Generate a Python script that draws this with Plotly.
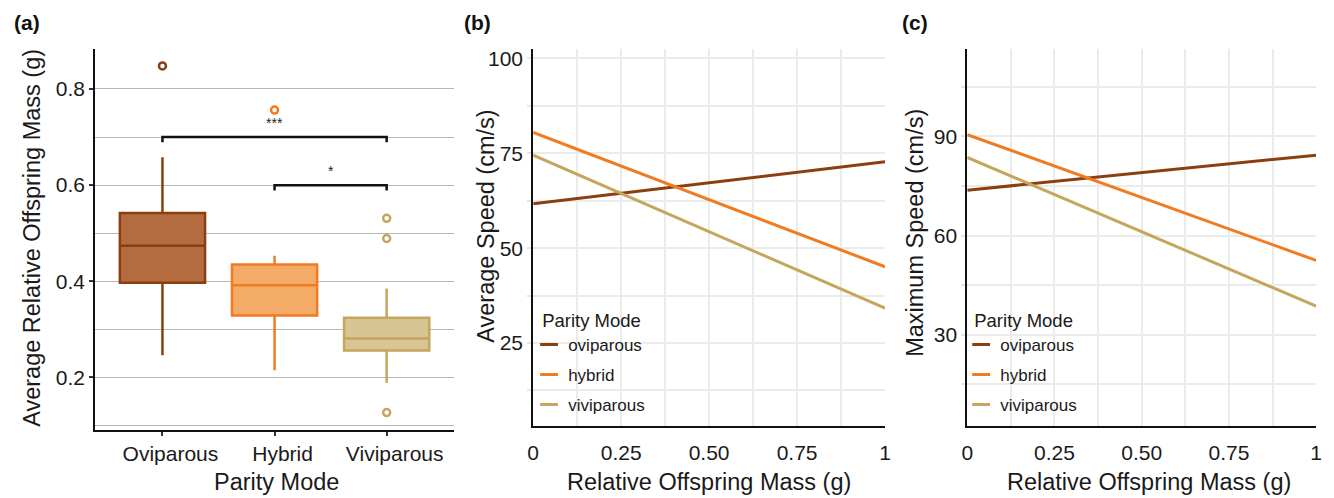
import plotly.graph_objects as go

W, H = 1334, 498

# ---------------- data ----------------
categories = ["Oviparous", "Hybrid", "Viviparous"]
box_q1 = [0.397, 0.329, 0.256]
box_median = [0.474, 0.392, 0.281]
box_q3 = [0.542, 0.435, 0.324]
box_lower = [0.246, 0.215, 0.189]
box_upper = [0.658, 0.453, 0.385]
outlier_cat = ["Oviparous", "Hybrid", "Viviparous", "Viviparous", "Viviparous"]
outlier_val = [0.848, 0.756, 0.531, 0.489, 0.127]

sig_from = ["Oviparous", "Hybrid"]
sig_to = ["Viviparous", "Viviparous"]
sig_y = [0.70, 0.60]
sig_label = ["***", "*"]

modes = ["oviparous", "hybrid", "viviparous"]
mass = [0, 1]
avg_speed = {
    "oviparous": [61.7, 72.8],
    "hybrid": [80.5, 45.1],
    "viviparous": [74.5, 34.2],
}
max_speed = {
    "oviparous": [73.7, 84.3],
    "hybrid": [90.5, 52.5],
    "viviparous": [83.6, 38.7],
}

x_tickvals_bc = [0, 0.125, 0.25, 0.375, 0.5, 0.625, 0.75, 0.875, 1]
x_ticktext_bc = ["0", "", "0.25", "", "0.50", "", "0.75", "", "1"]
yb_tickvals = [12.5, 25, 37.5, 50, 62.5, 75, 87.5, 100]
yb_ticktext = ["", "25", "", "50", "", "75", "", "100"]
yc_tickvals = [15, 30, 45, 60, 75, 90, 105]
yc_ticktext = ["", "30", "", "60", "", "90", ""]

# ---------------- styles ----------------
line_col = {"oviparous": "#8a3f10", "hybrid": "#f07b20", "viviparous": "#c6a55c"}
fill_col = ["#b36b3f", "#f4ab68", "#d9c594"]
edge_col = [line_col[m] for m in modes]
cat_edge = dict(zip(categories, edge_col))
FONT = "Liberation Sans"
TXT = "#1a1a1a"


def px2x(p):
    return p / W


def py2y(p):
    return 1 - p / H


fig = go.Figure()

# ---- panel (a): boxes ----
for i, c in enumerate(categories):
    fig.add_trace(go.Box(
        x=[c], q1=[box_q1[i]], median=[box_median[i]], q3=[box_q3[i]],
        lowerfence=[box_lower[i]], upperfence=[box_upper[i]],
        fillcolor=fill_col[i], line=dict(color=edge_col[i], width=2.5),
        width=0.76, whiskerwidth=0, boxpoints=False, showlegend=False,
        xaxis="x", yaxis="y",
    ))
for c in categories:
    ys = [v for cc, v in zip(outlier_cat, outlier_val) if cc == c]
    fig.add_trace(go.Scatter(
        x=[c] * len(ys), y=ys, mode="markers",
        marker=dict(symbol="circle-open", size=7, line=dict(width=2.5, color=cat_edge[c]), color=cat_edge[c]),
        showlegend=False, xaxis="x", yaxis="y", hoverinfo="skip",
    ))
# significance brackets
for f, t, yv, lab in zip(sig_from, sig_to, sig_y, sig_label):
    fig.add_trace(go.Scatter(
        x=[f, f, t, t], y=[yv - 0.011, yv, yv, yv - 0.011], mode="lines",
        line=dict(color="#111111", width=2.5), showlegend=False,
        xaxis="x", yaxis="y", hoverinfo="skip",
    ))
    mid = (categories.index(f) + categories.index(t)) / 2
    fig.add_annotation(x=mid, y=yv, xref="x", yref="y", text=lab, showarrow=False,
                       yanchor="bottom", yshift=4, font=dict(size=14, color="#222", family=FONT))

# ---- panels (b) and (c) ----
for m in modes:
    fig.add_trace(go.Scatter(x=mass, y=avg_speed[m], mode="lines",
                             line=dict(color=line_col[m], width=3),
                             showlegend=False, xaxis="x2", yaxis="y2"))
    fig.add_trace(go.Scatter(x=mass, y=max_speed[m], mode="lines",
                             line=dict(color=line_col[m], width=3),
                             showlegend=False, xaxis="x3", yaxis="y3"))
# legend entries (short dash symbols)
for lg, xa, ya in (("legend", "x2", "y2"), ("legend2", "x3", "y3")):
    for m in modes:
        fig.add_trace(go.Scatter(x=[None], y=[None], mode="markers", name=m,
                                 marker=dict(symbol="line-ew", size=14,
                                             line=dict(width=3, color=line_col[m])),
                                 legend=lg, legendgroup=lg + m, xaxis=xa, yaxis=ya))

top_px = 47
dom_a = dict(x=[px2x(90), px2x(452)], y=[py2y(430), py2y(top_px)])
dom_b = dict(x=[px2x(532), px2x(887)], y=[py2y(425.7), py2y(top_px)])
dom_c = dict(x=[px2x(970), px2x(1322)], y=[py2y(425.7), py2y(top_px)])

tickfont = dict(size=21, color=TXT, family=FONT)

legend_common = dict(
    bgcolor="rgba(0,0,0,0)", traceorder="grouped", tracegroupgap=5,
    font=dict(size=17, color=TXT, family=FONT),
    title=dict(text="Parity Mode", font=dict(size=18.5, color=TXT, family=FONT)),
    xanchor="left", yanchor="top", itemclick=False, indentation=-12,
)

fig.update_layout(
    width=W, height=H, margin=dict(l=0, r=0, t=0, b=0),
    paper_bgcolor="white", plot_bgcolor="white",
    font=dict(family=FONT, color=TXT),
    boxmode="overlay",
    xaxis=dict(domain=dom_a["x"], anchor="y", type="category",
               categoryorder="array", categoryarray=categories,
               range=[-0.6, 2.6], showgrid=False, showline=True,
               linecolor="#111", linewidth=2, ticks="outside", ticklen=4,
               tickcolor="#333", tickwidth=1.5, tickfont=tickfont, zeroline=False,
               ticklabelshift=8),
    yaxis=dict(domain=dom_a["y"], anchor="x", range=[0.0902, 0.8835],
               tickvals=[0.2, 0.4, 0.6, 0.8], ticktext=["0.2", "0.4", "0.6", "0.8"],
               showgrid=True, gridcolor="#b8b8b8", gridwidth=1.2,
               minor=dict(tickvals=[0.1, 0.3, 0.5, 0.7], showgrid=True,
                          gridcolor="#b8b8b8", gridwidth=1.2, ticks=""),
               showline=True, linecolor="#111", linewidth=2, ticks="outside",
               ticklen=4, tickcolor="#333", tickwidth=1.5, tickfont=tickfont,
               zeroline=False),
    xaxis2=dict(domain=dom_b["x"], anchor="y2", range=[0, 1],
                tickvals=x_tickvals_bc, ticktext=x_ticktext_bc,
                showgrid=True, gridcolor="#ebebeb", gridwidth=2,
                showline=True, linecolor="#111", linewidth=2, ticks="",
                tickfont=tickfont, zeroline=False, ticklabelstandoff=7),
    yaxis2=dict(domain=dom_b["y"], anchor="x2", range=[3.13, 102.55],
                tickvals=yb_tickvals, ticktext=yb_ticktext,
                showgrid=True, gridcolor="#ebebeb", gridwidth=2,
                showline=True, linecolor="#111", linewidth=2, ticks="outside",
                ticklen=4, tickcolor="#e6e6e6", tickwidth=2, tickfont=tickfont,
                zeroline=False),
    xaxis3=dict(domain=dom_c["x"], anchor="y3", range=[0, 1],
                tickvals=x_tickvals_bc, ticktext=x_ticktext_bc,
                showgrid=True, gridcolor="#ebebeb", gridwidth=2,
                showline=True, linecolor="#111", linewidth=2, ticks="",
                tickfont=tickfont, zeroline=False, ticklabelstandoff=7),
    yaxis3=dict(domain=dom_c["y"], anchor="x3", range=[2.45, 116.44],
                tickvals=yc_tickvals, ticktext=yc_ticktext,
                showgrid=True, gridcolor="#ebebeb", gridwidth=2,
                showline=True, linecolor="#111", linewidth=2, ticks="outside",
                ticklen=4, tickcolor="#e6e6e6", tickwidth=2, tickfont=tickfont,
                zeroline=False),
    legend=dict(x=px2x(539), y=py2y(302), **legend_common),
    legend2=dict(x=px2x(975), y=py2y(302), **legend_common),
)

# axis titles and panel labels
title_font = dict(size=23.5, color=TXT, family=FONT)
ann = [
    (26, 237, "Average Relative Offspring Mass (g)", -90),
    (273, 482, "Parity Mode", 0),
    (484, 225, "Average Speed (cm/s)", -90),
    (709, 482, "Relative Offspring Mass (g)", 0),
    (917, 232, "Maximum Speed (cm/s)", -90),
    (1153, 482, "Relative Offspring Mass (g)", 0),
]
for xp, yp, txt, ang in ann:
    fig.add_annotation(x=px2x(xp), y=py2y(yp), xref="paper", yref="paper",
                       text=txt, textangle=ang, showarrow=False,
                       xanchor="center", yanchor="middle", font=title_font)
for xp, txt in ((21, "(a)"), (476, "(b)"), (917, "(c)")):
    fig.add_annotation(x=px2x(xp), y=py2y(21), xref="paper", yref="paper",
                       text="<b>" + txt + "</b>", showarrow=False,
                       xanchor="center", yanchor="middle",
                       font=dict(size=21, color="#111", family=FONT))

fig.write_html(
    "out.html",
    config={"displayModeBar": False},
    post_script="document.body.style.margin='0';document.body.style.padding='0';"
                "document.body.style.overflow='hidden';",
)
